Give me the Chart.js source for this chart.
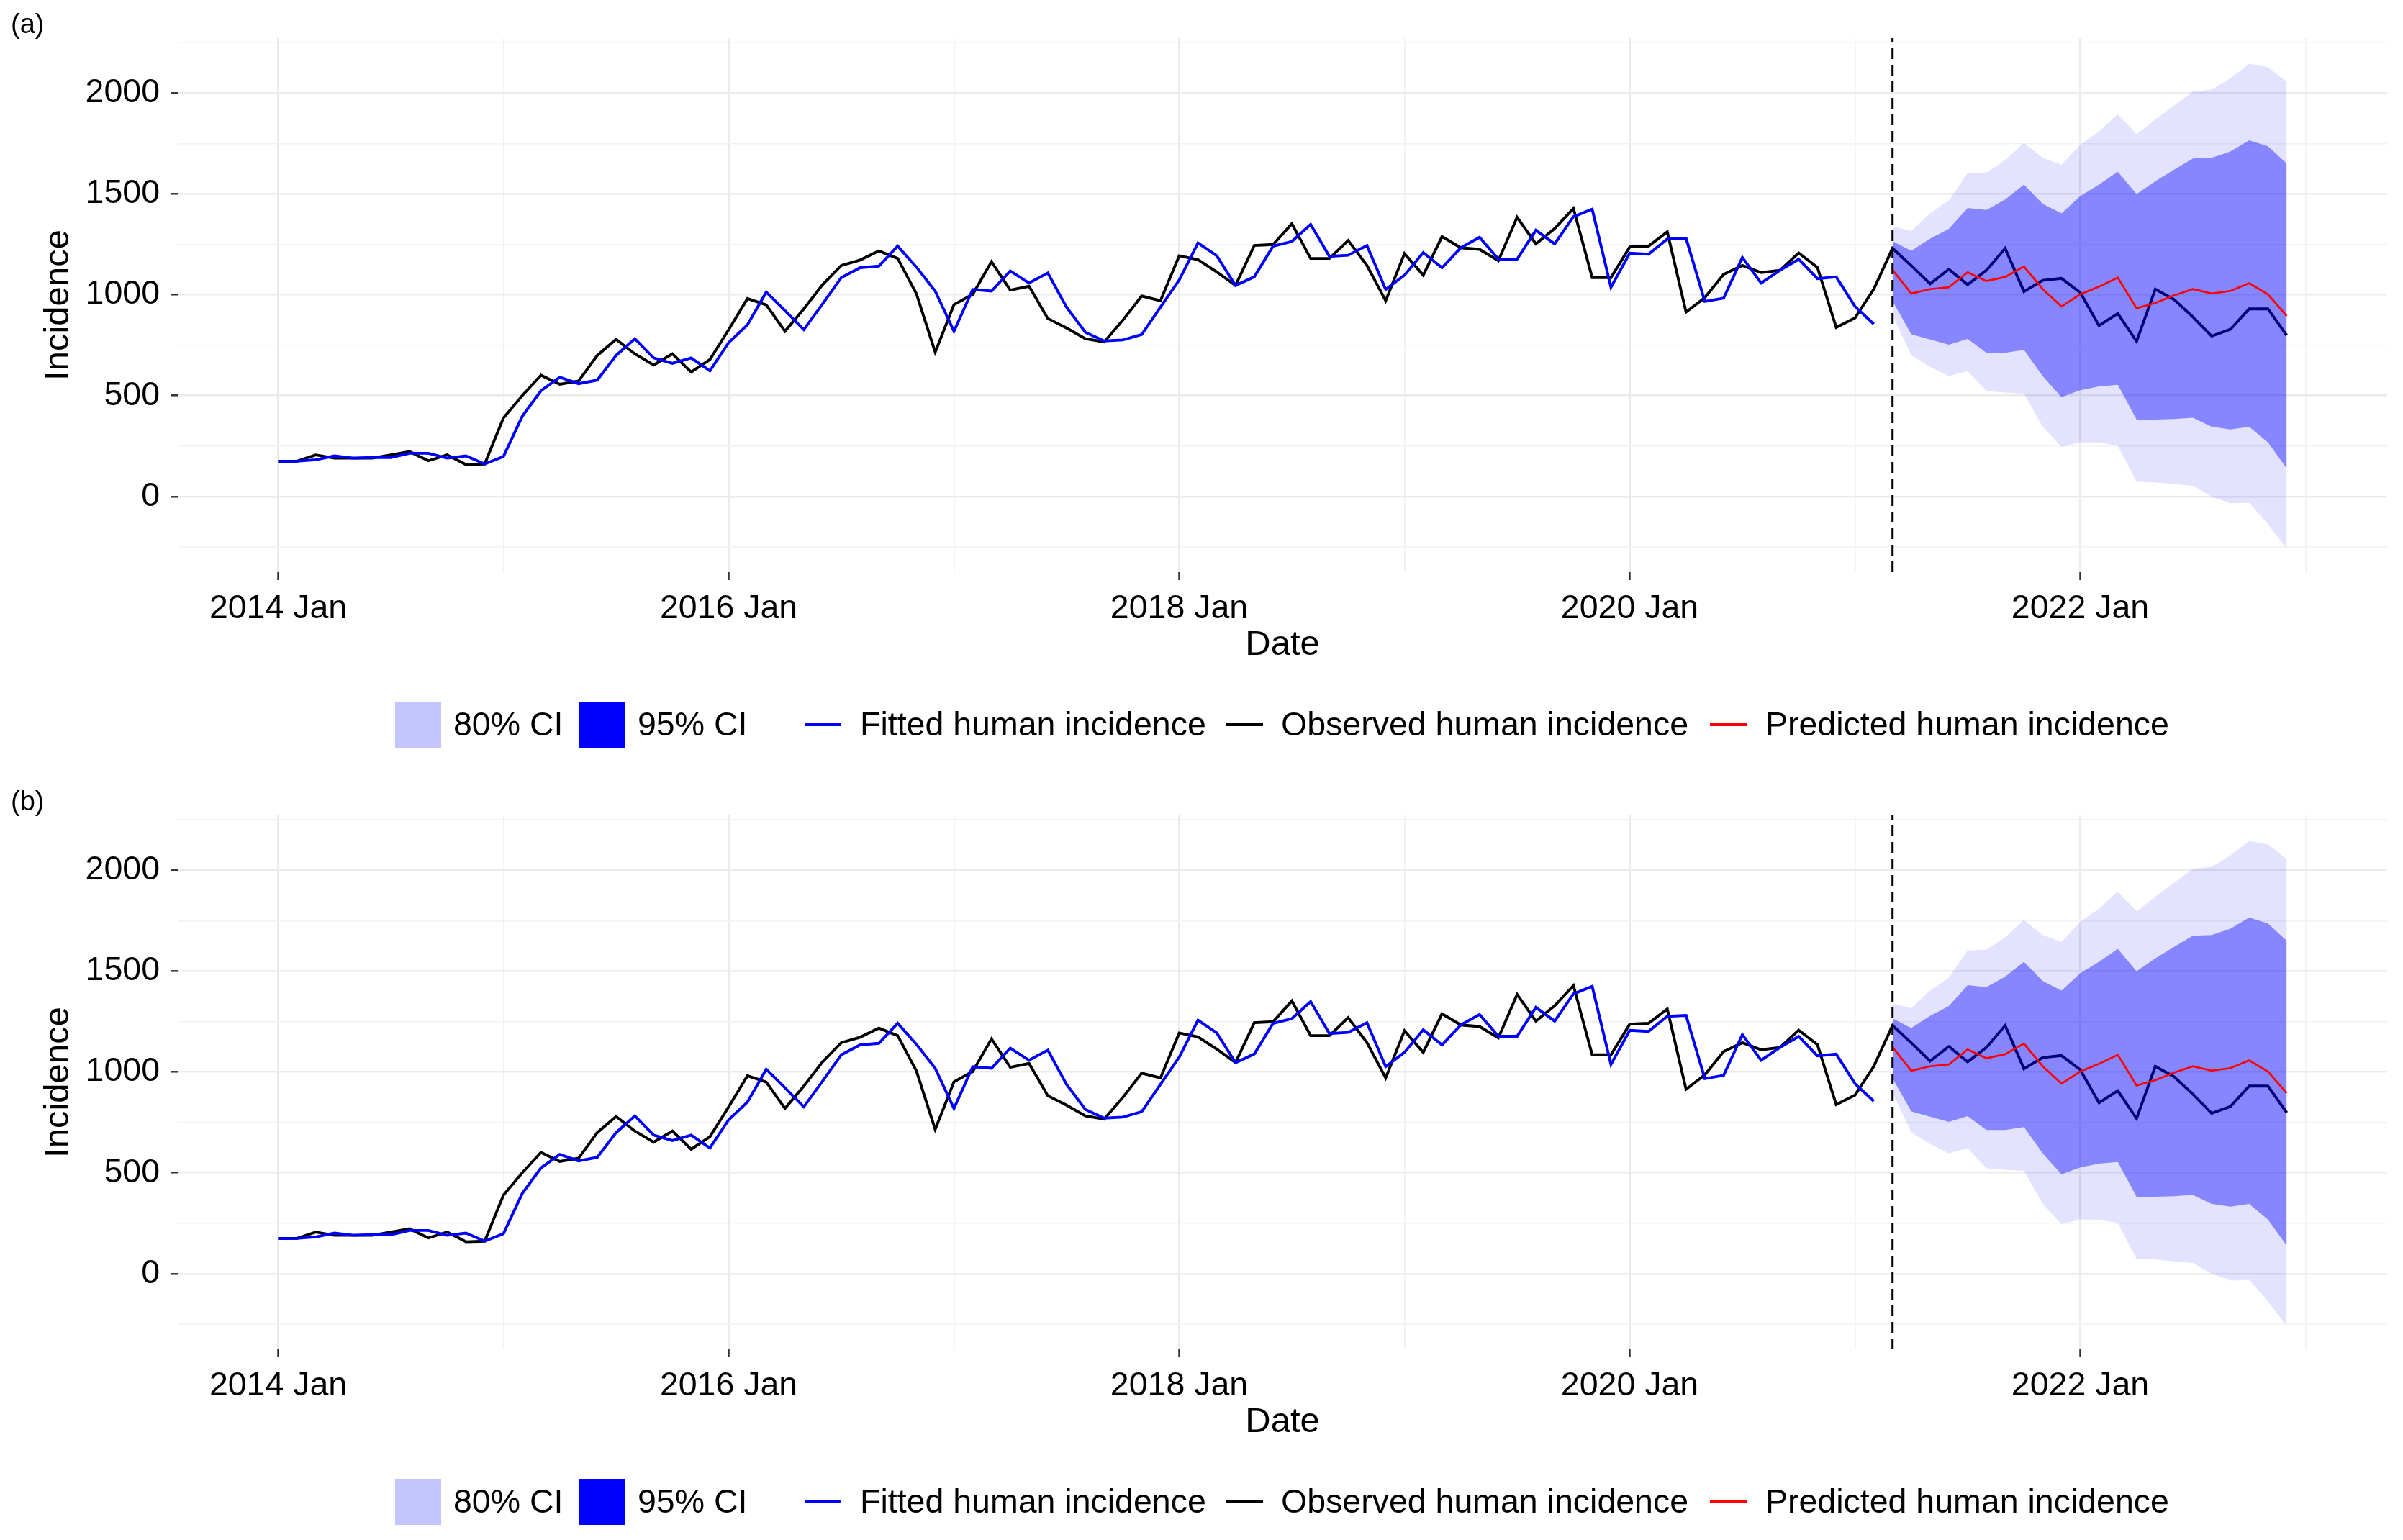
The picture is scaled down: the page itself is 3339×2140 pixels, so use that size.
<!DOCTYPE html>
<html>
<head>
<meta charset="utf-8">
<script src="https://cdn.jsdelivr.net/npm/chart.js@4.4.1/dist/chart.umd.min.js"></script>
<style>
  html, body { margin: 0; padding: 0; background: #fff; overflow: hidden; }
  .panel { position: absolute; left: 0; width: 3339px; height: 1080px; }
  .tag { position: absolute; left: 15px; top: 14px; font: 38px 'Liberation Sans', Arial, sans-serif; line-height: 38px; color: #000; }
</style>
</head>
<body>
<div class="panel" style="top:0"><canvas id="chartA"></canvas><div class="tag">(a)</div></div>
<div class="panel" style="top:1080px"><canvas id="chartB"></canvas><div class="tag">(b)</div></div>
<script>
// monthly series, index 0 = 2014 Jan
const observed = [
  175, 175, 206, 190, 190, 190, 206, 222, 177, 206, 158, 161,
  389, 500, 601, 556, 572, 699, 779, 707, 652, 707, 617, 679,
  827, 981, 950, 819, 930, 1050, 1145, 1172, 1217, 1180, 1005, 715,
  951, 1002, 1164, 1023, 1042, 882, 835, 782, 766, 874, 994, 970,
  1193, 1174, 1113, 1046, 1244, 1249, 1352, 1180, 1180, 1269, 1145, 970,
  1204, 1097, 1288, 1233, 1225, 1169, 1384, 1252, 1328, 1428, 1085, 1085,
  1237, 1241, 1312, 914, 986, 1101, 1145, 1110, 1121, 1207, 1135, 838,
  885, 1028, 1230, 1144, 1054, 1126, 1050, 1121, 1230, 1016, 1071, 1081,
  1011, 847, 907, 769, 1028, 976, 890, 795, 829, 930, 930, 798
];
const fitted = [
  174, 175, 182, 201, 190, 193, 193, 214, 214, 190, 201, 161,
  198, 397, 524, 591, 559, 577, 699, 782, 687, 660, 687, 623,
  763, 851, 1013, 921, 827, 954, 1085, 1134, 1142, 1241, 1137, 1018,
  819, 1026, 1018, 1118, 1058, 1108, 938, 814, 771, 776, 803, 938,
  1073, 1257, 1193, 1046, 1089, 1241, 1264, 1349, 1190, 1196, 1244, 1026,
  1097, 1209, 1134, 1233, 1285, 1177, 1177, 1320, 1252, 1387, 1424, 1037,
  1206, 1201, 1276, 1280, 967, 983, 1185, 1058, 1121, 1176, 1080, 1088,
  942, 855
];
// forecast from 2021 Mar (month 86)
const forecastStart = 86;
const predicted = [1123, 1006, 1028, 1037, 1111, 1068, 1088, 1140, 1028, 942, 1002,
  1040, 1085, 933, 959, 997, 1028, 1006, 1019, 1057, 1002, 895];
const hi95 = [1339, 1316, 1403, 1468, 1603, 1606, 1667, 1753, 1679, 1644, 1744,
  1810, 1895, 1796, 1869, 1938, 2007, 2017, 2073, 2145, 2128, 2055];
const hi80 = [1265, 1218, 1278, 1327, 1430, 1420, 1472, 1546, 1451, 1403, 1489,
  1546, 1610, 1499, 1563, 1620, 1675, 1679, 1710, 1765, 1736, 1650];
const lo80 = [968, 804, 778, 752, 781, 712, 712, 726, 596, 493, 527,
  545, 553, 381, 381, 384, 390, 346, 332, 346, 268, 139];
const lo95 = [898, 700, 643, 596, 622, 522, 515, 510, 346, 246, 268,
  268, 251, 73, 70, 61, 53, 0, -34, -31, -138, -259];

const xTickMonths = [0, 24, 48, 72, 96];
const xTickLabels = ['2014 Jan', '2016 Jan', '2018 Jan', '2020 Jan', '2022 Jan'];
const yTickValues = [0, 500, 1000, 1500, 2000];
const legendLabels = ['80% CI', '95% CI', 'Fitted human incidence', 'Observed human incidence', 'Predicted human incidence'];

const X_MIN = -5.35, X_MAX = 112.35;
const Y_MIN = -375, Y_MAX = 2272;
const FONT = "'Liberation Sans', Arial, sans-serif";

// minor grid lines sit half way between labelled ticks
const xGrid = [];
xTickMonths.forEach(m => { xGrid.push(m, m + 12); });
const yGrid = [yTickValues[0] - 250];
yTickValues.forEach(v => { yGrid.push(v, v + 250); });

const pts = (arr, start) => arr.map((v, i) => ({ x: start + i, y: v }));

Chart.defaults.font.family = FONT;

const legendPlugin = {
  id: 'ggLegend',
  afterDraw(chart) {
    const ctx = chart.ctx;
    const cy = 1007;
    const items = [
      { kind: 'box', color: '#C4C4FF', keyX: 549, textX: 630 },
      { kind: 'box', color: '#0000FF', keyX: 805, textX: 886 },
      { kind: 'line', color: '#0000FF', keyX: 1118, textX: 1195 },
      { kind: 'line', color: '#000000', keyX: 1704, textX: 1780 },
      { kind: 'line', color: '#FF0000', keyX: 2376, textX: 2453 }
    ];
    ctx.save();
    ctx.font = '46.5px ' + FONT;
    ctx.textBaseline = 'middle';
    items.forEach((it, i) => {
      if (it.kind === 'box') {
        ctx.fillStyle = it.color;
        ctx.fillRect(it.keyX, cy - 32, 64, 64);
      } else {
        ctx.strokeStyle = it.color;
        ctx.lineWidth = 3.8;
        ctx.beginPath();
        ctx.moveTo(it.keyX, cy);
        ctx.lineTo(it.keyX + 51, cy);
        ctx.stroke();
      }
      ctx.fillStyle = '#000';
      ctx.fillText(legendLabels[i], it.textX, cy + 2);
    });
    ctx.restore();
  }
};

function makeChart(id) {
  const clear = 'rgba(0,0,0,0)';
  return new Chart(document.getElementById(id), {
    type: 'line',
    data: {
      datasets: [
        { label: 'Predicted human incidence', data: pts(predicted, forecastStart),
          borderColor: '#FF0000', borderWidth: 2.7, order: 1 },
        { label: 'forecast start', data: [{ x: forecastStart, y: Y_MIN }, { x: forecastStart, y: Y_MAX }],
          borderColor: '#000', borderWidth: 3, borderDash: [15, 8], order: 0 },
        { label: 'hi80', data: pts(hi80, forecastStart), borderColor: clear, borderWidth: 0,
          fill: 3, backgroundColor: 'rgba(0,0,255,0.41)', order: 2 },
        { label: 'lo80', data: pts(lo80, forecastStart), borderColor: clear, borderWidth: 0, order: 2 },
        { label: 'hi95', data: pts(hi95, forecastStart), borderColor: clear, borderWidth: 0,
          fill: 5, backgroundColor: 'rgba(0,0,255,0.11)', order: 3 },
        { label: 'lo95', data: pts(lo95, forecastStart), borderColor: clear, borderWidth: 0, order: 3 },
        { label: 'Fitted human incidence', data: pts(fitted, 0),
          borderColor: '#0000FF', borderWidth: 3.9, order: 4 },
        { label: 'Observed human incidence', data: pts(observed, 0),
          borderColor: '#000000', borderWidth: 3.9, order: 5 }
      ]
    },
    options: {
      responsive: true,
      maintainAspectRatio: false,
      animation: false,
      events: [],
      elements: { point: { radius: 0 }, line: { tension: 0 } },
      layout: { padding: { left: 0, right: 22, top: 53, bottom: 151 } },
      plugins: { legend: { display: false }, tooltip: { enabled: false } },
      scales: {
        x: {
          type: 'linear', min: X_MIN, max: X_MAX,
          afterFit(scale) { scale.height = 134; },
          afterBuildTicks(scale) { scale.ticks = xGrid.map(v => ({ value: v })); },
          ticks: {
            autoSkip: false, maxRotation: 0, padding: 12, color: '#000', font: { size: 46.5 },
            callback(v) { const i = xTickMonths.indexOf(v); return i >= 0 ? xTickLabels[i] : ''; }
          },
          grid: {
            color: c => xTickMonths.includes(c.tick.value) ? '#EBEBEB' : '#F2F2F2',
            lineWidth: c => xTickMonths.includes(c.tick.value) ? 3 : 1.8,
            tickLength: 11, tickWidth: 2.5,
            tickColor: c => xTickMonths.includes(c.tick.value) ? '#333' : clear
          },
          border: { display: false },
          title: { display: true, text: 'Date', color: '#000', font: { size: 49 }, padding: { top: 0, bottom: 3 } }
        },
        y: {
          type: 'linear', min: Y_MIN, max: Y_MAX,
          afterFit(scale) { scale.width = 247; },
          afterBuildTicks(scale) { scale.ticks = yGrid.map(v => ({ value: v })); },
          ticks: {
            padding: 16, color: '#000', font: { size: 46.5 },
            callback(v) { return yTickValues.includes(v) ? String(v) : ''; }
          },
          grid: {
            color: c => yTickValues.includes(c.tick.value) ? '#EBEBEB' : '#F2F2F2',
            lineWidth: c => yTickValues.includes(c.tick.value) ? 2.6 : 1.6,
            tickLength: 9, tickWidth: 2.5,
            tickColor: c => yTickValues.includes(c.tick.value) ? '#333' : clear
          },
          border: { display: false },
          title: { display: true, text: 'Incidence', color: '#000', font: { size: 49 }, padding: { top: 52, bottom: 0 } }
        }
      }
    },
    plugins: [legendPlugin]
  });
}

makeChart('chartA');
makeChart('chartB');
</script>
</body>
</html>
